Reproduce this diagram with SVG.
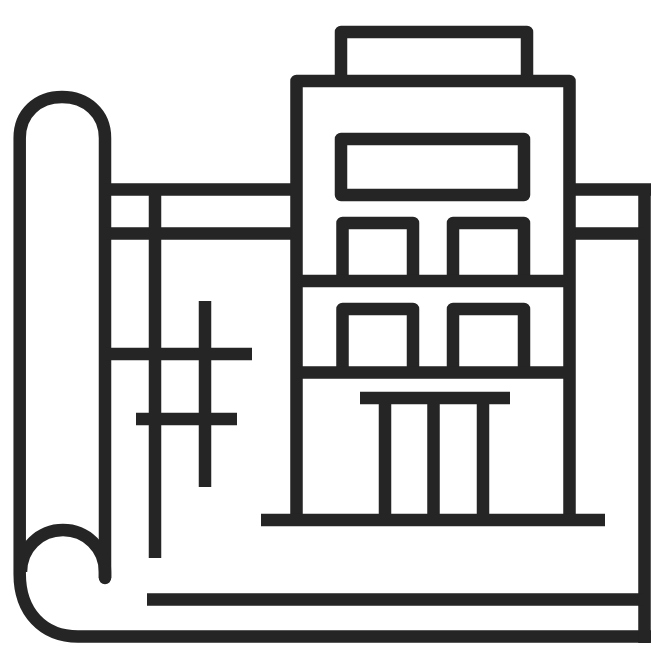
<svg xmlns="http://www.w3.org/2000/svg" width="651" height="651" viewBox="0 0 651 651">
<style>
.l{fill:none;stroke:#252525;stroke-width:12.5;stroke-linejoin:round;stroke-linecap:butt}
.r{stroke-linecap:round}
</style>
<rect width="651" height="651" fill="#fff"/>
<g id="plan">
<path class="l r" d="M105 578V138C105 113 86 97 62 97C38 97 19.700 113 19.700 138V574C19.700 612 43 636.500 78 636.500H651"/>
<path class="l" d="M105 578V572C105 548 86 530 63 530C40 530 21 548 21 572"/>
<path class="l" d="M644.500 643V189.500H575M651 189.500H640"/>
<path class="l" d="M105 189.500H297M105 233.500H297M575 233.500H644M155 190V558M105 354H252M136 419H237M205 301V487M147 599.500H644"/>
</g>
<g id="building">
<path class="l" d="M296.500 515V81H569.500V515"/>
<path class="l" d="M341 81V32H527V81"/>
<rect class="l" x="341" y="139" width="183" height="56"/>
<path class="l" d="M342.500 281V223H413V281M453 281V223H524V281"/>
<path class="l" d="M342.500 372V309H413V372M453 372V309H524V372"/>
<path class="l" d="M297 281H570M297 372.500H570M360 398H510M385 398V519M433.500 398V519M483 398V519M261 520H605"/>
</g>
</svg>
